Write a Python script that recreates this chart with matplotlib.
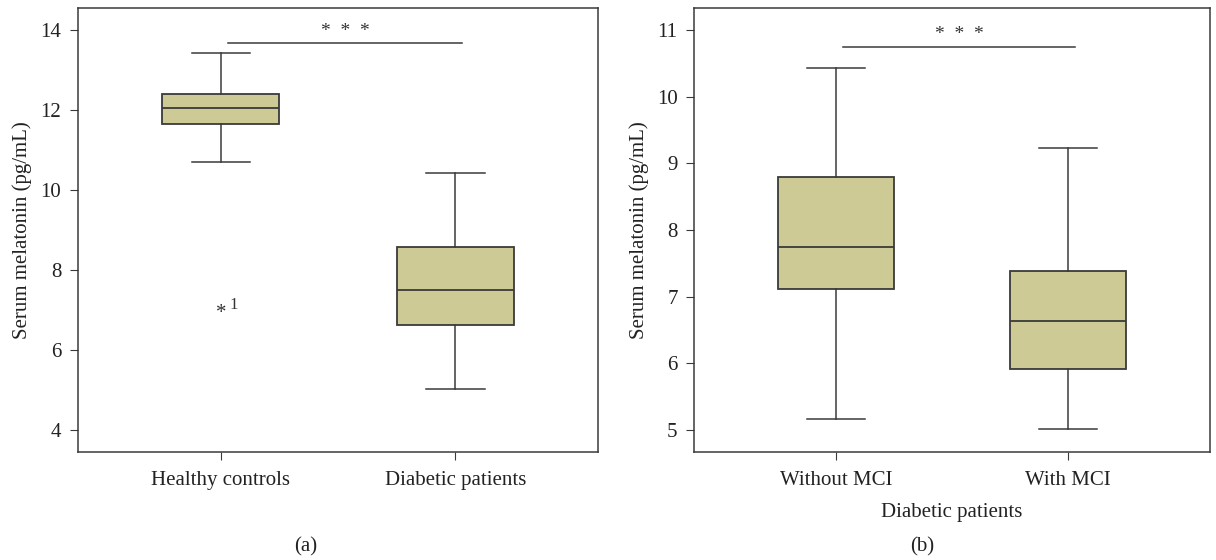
import matplotlib
matplotlib.use("Agg")
import matplotlib.pyplot as plt

# panel (a)
groups_a = ["Healthy controls", "Diabetic patients"]
wlo_a = [10.70, 5.03]
q1_a = [11.64, 6.61]
med_a = [12.04, 7.49]
q3_a = [12.40, 8.58]
whi_a = [13.41, 10.43]
outlier_a = 6.90

# panel (b)
groups_b = ["Without MCI", "With MCI"]
wlo_b = [5.17, 5.01]
q1_b = [7.12, 5.91]
med_b = [7.74, 6.63]
q3_b = [8.79, 7.38]
whi_b = [10.43, 9.23]

box_color = "#cdca95"
edge = "#3a3a3a"
txt = "#222222"
plt.rcParams["font.family"] = ["Liberation Serif", "DejaVu Serif"]


def make_stats(wlo, q1, med, q3, whi):
    return [dict(whislo=a, q1=b, med=c, q3=d, whishi=e, fliers=[])
            for a, b, c, d, e in zip(wlo, q1, med, q3, whi)]


def draw(ax, stats, labels, ylim, yticks, sig_y, star_y):
    ax.bxp(stats, positions=[0, 1], widths=0.5, patch_artist=True,
           showfliers=False,
           boxprops=dict(facecolor=box_color, edgecolor=edge, linewidth=1.3),
           medianprops=dict(color=edge, linewidth=1.3),
           whiskerprops=dict(color=edge, linewidth=1.1),
           capprops=dict(color=edge, linewidth=1.1))
    ax.set_xlim(-0.61, 1.61)
    ax.set_ylim(*ylim)
    ax.set_yticks(yticks)
    ax.set_xticks([0, 1])
    ax.set_xticklabels(labels)
    ax.tick_params(direction="out", length=6, color=edge, labelsize=15, labelcolor=txt)
    ax.tick_params(axis="x", pad=8)
    ax.tick_params(axis="y", pad=6)
    for s in ax.spines.values():
        s.set_color(edge)
        s.set_linewidth(1.1)
    ax.plot([0.03, 1.03], [sig_y, sig_y], color=edge, linewidth=1.1)
    ax.text(0.53, star_y, "*  *  *", ha="center", va="center", fontsize=14, color="#333")
    ax.set_ylabel("Serum melatonin (pg/mL)", fontsize=15, color=txt, labelpad=6)


fig = plt.figure(figsize=(12.16, 5.6), dpi=100)
ax1 = fig.add_axes([0.064, 0.193, 0.428, 0.793])
ax2 = fig.add_axes([0.571, 0.193, 0.424, 0.793])

draw(ax1, make_stats(wlo_a, q1_a, med_a, q3_a, whi_a), groups_a,
     (3.45, 14.55), [4, 6, 8, 10, 12, 14], 13.67, 13.95)
ax1.text(0, outlier_a, "*", ha="center", va="center", fontsize=15, color="#333")
ax1.text(0.035, outlier_a + 0.22, "1", ha="left", va="center", fontsize=12, color="#333")

draw(ax2, make_stats(wlo_b, q1_b, med_b, q3_b, whi_b), groups_b,
     (4.67, 11.33), [5, 6, 7, 8, 9, 10, 11], 10.75, 10.93)
ax2.set_xlabel("Diabetic patients", fontsize=15, color=txt, labelpad=9)

fig.text(0.251, 0.023, "(a)", ha="center", va="center", fontsize=15, color=txt)
fig.text(0.758, 0.023, "(b)", ha="center", va="center", fontsize=15, color=txt)

fig.savefig("out.png", dpi=100)
